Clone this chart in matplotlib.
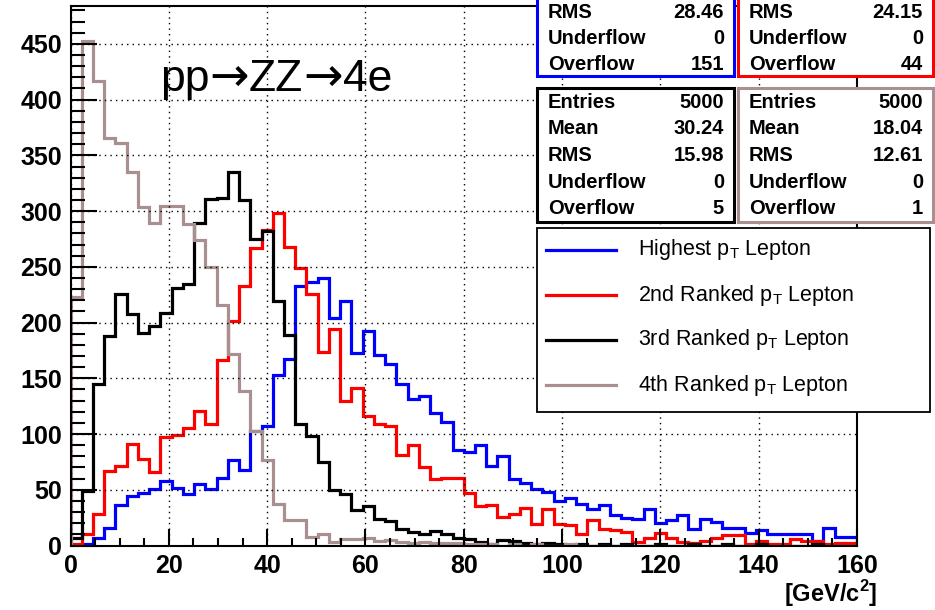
import numpy as np
import matplotlib.pyplot as plt
from matplotlib.patches import Rectangle
from matplotlib.lines import Line2D
from matplotlib.offsetbox import TextArea, HPacker, AnchoredOffsetbox

# 70 bins from 0 to 160 GeV
edges = np.linspace(0, 160, 71)

highest = [0, 1, 7, 16, 36, 44, 47, 51, 58, 52,
           46, 55, 51, 61, 77, 68, 103, 107, 153, 167,
           233, 236, 240, 204, 219, 173, 192, 171, 163, 145,
           131, 134, 119, 111, 86, 84, 90, 71, 80, 60,
           56, 51, 48, 40, 43, 37, 33, 36, 27, 25,
           24, 33, 20, 23, 27, 15, 24, 21, 16, 16,
           11, 14, 10, 10, 10, 10, 4, 16, 8, 8]
second = [1, 10, 28, 67, 71, 91, 78, 66, 97, 99,
          105, 121, 109, 166, 201, 233, 267, 283, 298, 268,
          249, 226, 174, 194, 130, 141, 116, 109, 107, 81,
          90, 70, 60, 61, 61, 47, 35, 36, 26, 28,
          34, 19, 33, 19, 18, 10, 23, 15, 14, 12,
          3, 7, 11, 7, 3, 2, 4, 7, 9, 9,
          1, 4, 1, 1, 6, 4, 4, 1, 2, 2]
third = [7, 49, 145, 188, 226, 208, 191, 197, 209, 231,
         235, 289, 311, 312, 335, 310, 275, 282, 219, 189,
         109, 98, 75, 50, 46, 32, 35, 24, 22, 15,
         12, 10, 13, 10, 7, 6, 3, 1, 5, 4,
         2, 1, 2, 1, 0, 1, 0, 1, 0, 1,
         0, 0, 1, 0, 0, 1, 0, 0, 1, 0,
         0, 1, 0, 0, 0, 0, 1, 0, 0, 0]
fourth = [223, 453, 417, 366, 361, 335, 304, 289, 305, 305,
          288, 274, 250, 216, 172, 139, 103, 77, 37, 23,
          23, 8, 10, 3, 6, 6, 7, 4, 5, 3,
          2, 3, 2, 2, 2, 1, 1, 1, 0, 1,
          0, 1, 0, 0, 1, 0, 0, 0, 0, 0,
          0, 0, 0, 0, 0, 0, 0, 0, 0, 0,
          0, 0, 0, 0, 0, 0, 0, 0, 0, 0]

labels = ["Highest p$_\\mathrm{T}$ Lepton", "2nd Ranked p$_\\mathrm{T}$ Lepton",
          "3rd Ranked p$_\\mathrm{T}$ Lepton", "4th Ranked p$_\\mathrm{T}$ Lepton"]
colors = ["#0000ff", "#ff0000", "#000000", "#a89090"]

# stat boxes (only the rows visible in the picture for the top two)
stat_top = [("RMS", ["28.46", "24.15"]),
            ("Underflow", ["0", "0"]),
            ("Overflow", ["151", "44"])]
stat_bottom = [("Entries", ["5000", "5000"]),
               ("Mean", ["30.24", "18.04"]),
               ("RMS", ["15.98", "12.61"]),
               ("Underflow", ["0", "0"]),
               ("Overflow", ["5", "1"])]

W, H = 935, 610
plt.rcParams['font.family'] = ['Liberation Sans', 'DejaVu Sans']
plt.rcParams['mathtext.fontset'] = 'custom'
plt.rcParams['mathtext.rm'] = 'Liberation Sans'
plt.rcParams['mathtext.bf'] = 'Liberation Sans:bold'

fig = plt.figure(figsize=(W / 100, H / 100), dpi=100)
ax = fig.add_axes([70.5 / W, 1 - 545.5 / H, (857 - 70.5) / W, (545.5 - 6) / H])

for vals, c in zip([highest, second, third, fourth], colors):
    ax.stairs(vals, edges, color=c, lw=2.3, baseline=0)

ax.set_xlim(0, 160)
ax.set_ylim(0, 484)
ax.set_xticks(np.arange(0, 161, 20))
ax.set_xticks(np.arange(0, 161, 5), minor=True)
ax.set_yticks(np.arange(0, 451, 50))
ax.set_yticks(np.arange(0, 481, 10), minor=True)
ax.grid(True, which="major", color="black", lw=1, linestyle=(0, (1, 3)))
ax.tick_params(axis="both", which="both", direction="in", top=False, right=False,
               width=1.5)
ax.tick_params(axis="y", which="major", length=19, pad=6)
ax.tick_params(axis="y", which="minor", length=10)
ax.tick_params(axis="x", which="major", length=12, pad=6)
ax.tick_params(axis="x", which="minor", length=6)
for lab in ax.get_xticklabels() + ax.get_yticklabels():
    lab.set_fontweight("bold")
    lab.set_fontsize(18)
for s in ax.spines.values():
    s.set_linewidth(1.5)


def fx(x):
    return x / W


def fy(y):
    return 1 - y / H


fig.text(fx(877), fy(594), "[GeV/c$^\\mathbf{2}$]", ha="right", va="center",
         fontsize=17, fontweight="bold")

# title: letters and long arrows packed on one baseline
big = dict(fontsize=32, family="Liberation Sans")
arr = dict(fontsize=34, family="DejaVu Sans")
parts = [TextArea("pp", textprops=big), TextArea("\u2192", textprops=arr),
         TextArea("ZZ", textprops=big), TextArea("\u2192", textprops=arr),
         TextArea("4e", textprops=big)]
title = HPacker(children=parts, sep=0, pad=0, align="baseline")
fig.add_artist(AnchoredOffsetbox(loc="lower left", child=title, pad=0, borderpad=0,
                                 frameon=False, bbox_to_anchor=(fx(160), fy(101)),
                                 bbox_transform=fig.transFigure))


def stat_box(x0, x1, y0, y1, color, rows, col, row_y):
    fig.patches.append(Rectangle((fx(x0), fy(y1)), fx(x1 - x0), (y1 - y0) / H,
                                 transform=fig.transFigure, facecolor="white",
                                 edgecolor=color, lw=2.2, zorder=5))
    for (name, vals), yy in zip(rows, row_y):
        fig.text(fx(x0 + 11), fy(yy), name, ha="left", va="center",
                 fontsize=14.5, fontweight="bold", zorder=6)
        fig.text(fx(x1 - 10), fy(yy), vals[col], ha="right", va="center",
                 fontsize=14.5, fontweight="bold", zorder=6)


top_y = [12, 38, 64]
bot_y = [102, 129, 156, 183, 209]
stat_box(537, 734, -40, 76, colors[0], stat_top, 0, top_y)
stat_box(738, 933, -40, 76, colors[1], stat_top, 1, top_y)
stat_box(537, 734, 88, 222, colors[2], stat_bottom, 0, bot_y)
stat_box(738, 933, 88, 222, colors[3], stat_bottom, 1, bot_y)

# legend box
fig.patches.append(Rectangle((fx(537), fy(412)), fx(930 - 537), (412 - 228) / H,
                             transform=fig.transFigure, facecolor="white",
                             edgecolor="black", lw=1.3, zorder=5))
for i, (lab, c) in enumerate(zip(labels, colors)):
    yy = fy(250 + 45 * i)
    fig.lines.append(Line2D([fx(546), fx(616)], [yy, yy], color=c, lw=2.3,
                            transform=fig.transFigure, zorder=6))
    fig.text(fx(638), yy, lab, ha="left", va="center", fontsize=15.5, zorder=6)

fig.savefig("out.png", dpi=100)
